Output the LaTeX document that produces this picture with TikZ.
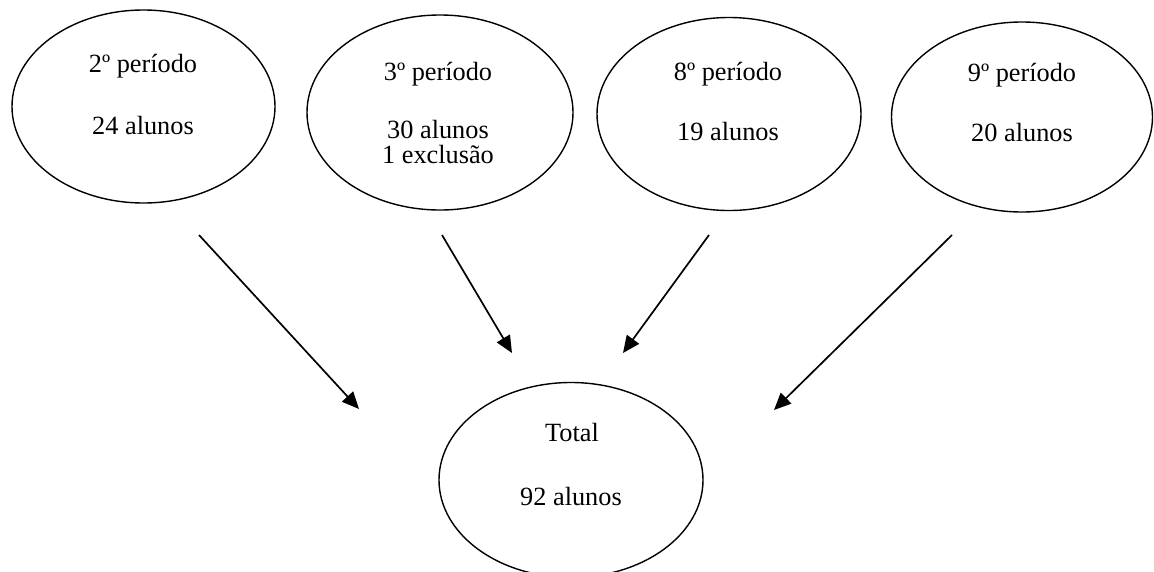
\documentclass[tikz,border=0pt]{standalone}
\usepackage{fontspec}
\setmainfont{Liberation Serif}
\usetikzlibrary{shapes.geometric,arrows.meta}
\begin{document}
\begin{tikzpicture}[x=1pt,y=-1pt,
  bubble/.style={draw,line width=1.4pt,ellipse,inner sep=0pt},
  label/.style={font=\fontsize{26.3}{28}\selectfont,inner sep=0pt,anchor=base},
  flow/.style={line width=1.7pt,-{Triangle[length=17pt,width=15pt]}}]
  \useasboundingbox (0,0) rectangle (1154,571);
  % period bubbles
  \node[bubble,minimum width=263pt,minimum height=193pt] (p2) at (143.5,106.5) {};
  \node[bubble,minimum width=266pt,minimum height=195pt] (p3) at (440,112.5) {};
  \node[bubble,minimum width=264pt,minimum height=193pt] (p8) at (729,114) {};
  \node[bubble,minimum width=261pt,minimum height=190pt] (p9) at (1022,117) {};
  \node[bubble,minimum width=264pt,minimum height=195pt] (tot) at (571,480) {};
  % texts
  \node[label] (p2a) at (143,72) {2º período};
  \node[label] (p2b) at (143,134) {24 alunos};
  \node[label] (p3a) at (438,80.5) {3º período};
  \node[label] (p3b) at (438,138.5) {30 alunos};
  \node[label] (p3c) at (438,163.5) {1 exclusão};
  \node[label] (p8a) at (728,80.5) {8º período};
  \node[label] (p8b) at (728,140.5) {19 alunos};
  \node[label] (p9a) at (1022,81.5) {9º período};
  \node[label] (p9b) at (1022,141.5) {20 alunos};
  \node[label] (tota) at (572,441.5) {Total};
  \node[label] (totb) at (571,505.5) {92 alunos};
  % arrow ends
  \coordinate (s2) at (199,235);
  \coordinate (e2) at (359,409);
  \coordinate (s3) at (442,235);
  \coordinate (e3) at (512,353);
  \coordinate (s8) at (709,235);
  \coordinate (e8) at (623,353);
  \coordinate (s9) at (952,235);
  \coordinate (e9) at (774,410);
  \draw[flow] (s2) -- (e2);
  \draw[flow] (s3) -- (e3);
  \draw[flow] (s8) -- (e8);
  \draw[flow] (s9) -- (e9);
\end{tikzpicture}
\end{document}
